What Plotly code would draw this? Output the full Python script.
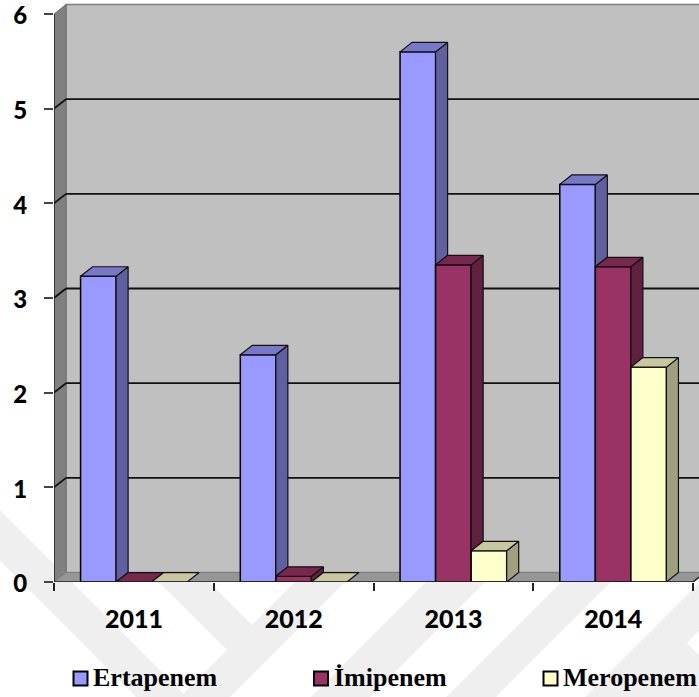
import plotly.graph_objects as go

# Values per year, one list per drug
years = ["2011", "2012", "2013", "2014"]
ertapenem = [3.23, 2.40, 5.60, 4.20]
imipenem = [0.0, 0.06, 3.35, 3.33]
meropenem = [0.0, 0.0, 0.33, 2.27]
series_names = ["Ertapenem", "İmipenem", "Meropenem"]
y_ticks = [0, 1, 2, 3, 4, 5, 6]

series = [ertapenem, imipenem, meropenem]
front = ["#9999FF", "#993366", "#FFFFCC"]
side = ["#6060A0", "#602040", "#A0A080"]
top = ["#7878C8", "#78284F", "#C8C8A0"]

# Axis geometry: category slots are one unit wide, depth is an offset in axis units
BAR_W = 0.2225
DX, DY = 0.0751, 0.1
GROUP_LEFT = -1.5 * BAR_W
X0, X1, Y1 = 0.5, 4.5, 6

# Page layout in pixels
PAGE_W, PAGE_H = 699, 697
M_L, M_T, M_B = 54, 2, 115
PLOT_W, PLOT_H = PAGE_W - M_L, PAGE_H - M_T - M_B


def px_x(x):
    return (x - M_L) / PLOT_W


def px_y(y):
    return (PAGE_H - M_B - y) / PLOT_H


def px_path(points):
    return "M" + " L".join(f"{px_x(x):.5f},{px_y(y):.5f}" for x, y in points) + " Z"


fig = go.Figure()

# Pale diagonal background bands
BAND = "#EFEFEF"
bands = [
    ([(0, 510), (187, 697), (136, 697), (0, 561)], BAND),
    ([(159, 582), (209, 582), (252, 625), (227, 650)], BAND),
    ([(180, 697), (297, 580), (347, 580), (230, 697)], BAND),
    ([(311, 697), (428, 580), (487, 580), (370, 697)], BAND),
    ([(446, 697), (563, 580), (613, 580), (496, 697)], BAND),
    ([(585, 697), (699, 583), (699, 697)], BAND),
    ([(687, 643), (699, 631), (699, 655)], "#FFFFFF"),
]
shapes = [
    dict(type="path", xref="paper", yref="paper", layer="below", path=px_path(pts),
         fillcolor=color, line=dict(width=0))
    for pts, color in bands
]

# Walls, floor and gridlines sit behind the bars
scene = [
    dict(type="rect", x0=X0 + DX, x1=X1 + DX, y0=DY, y1=Y1 + DY,
         fillcolor="#C0C0C0", line=dict(color="#808080", width=1.5)),
    dict(type="path", path=f"M{X0},0 L{X0 + DX},{DY} L{X0 + DX},{Y1 + DY} L{X0},{Y1} Z",
         fillcolor="#808080", line=dict(color="#707070", width=1)),
    dict(type="path", path=f"M{X0},0 L{X0 + DX},{DY} L{X1 + DX},{DY} L{X1},0 Z",
         fillcolor="#969696", line=dict(color="#808080", width=1)),
]
for t in y_ticks[1:-1]:
    scene.append(dict(type="line", x0=X0, y0=t, x1=X0 + DX, y1=t + DY,
                      line=dict(color="#111111", width=1.8)))
    scene.append(dict(type="line", x0=X0 + DX, y0=t + DY, x1=X1 + DX, y1=t + DY,
                      line=dict(color="#111111", width=1.8)))
for s in scene:
    s.update(xref="x", yref="y", layer="below")
shapes += scene

# Front faces
for k, (name, vals) in enumerate(zip(series_names, series)):
    fig.add_trace(go.Bar(
        x=[1, 2, 3, 4], y=vals, name=name, showlegend=False,
        marker=dict(color=front[k], line=dict(color="#000000", width=1.5)),
    ))


def face(xs, ys, color):
    fig.add_trace(go.Scatter(
        x=xs, y=ys, mode="lines", fill="toself", fillcolor=color,
        line=dict(color="#111111", width=1.2), showlegend=False, hoverinfo="skip",
    ))


# Side and top faces, worked out from the same values; a side stops where the next
# bar's front covers it
for c in range(4):
    for k in range(3):
        h = series[k][c]
        left = c + 1 + GROUP_LEFT + k * BAR_W
        right = left + BAR_W
        next_h = series[k + 1][c] if k < 2 else 0
        if h > next_h:
            face([right, right + DX, right + DX, right, right],
                 [next_h, next_h + DY, h + DY, h, next_h], side[k])
        face([left, left + DX, right + DX, right, left],
             [h, h + DY, h + DY, h, h], top[k])

# Baseline and vertical edge of the front plane
fig.add_trace(go.Scatter(x=[X0, X0, X1, X1 + DX], y=[Y1, 0, 0, DY], mode="lines",
                         line=dict(color="#222222", width=1.5),
                         showlegend=False, hoverinfo="skip"))

# Key along the bottom of the page: swatch box, then the series name
key_boxes = [(73.5, 87.5), (314, 328), (543.5, 557.5)]
key_text_x = [93, 334, 563]
annotations = []
for k, name in enumerate(series_names):
    x0, x1 = key_boxes[k]
    shapes.append(dict(type="rect", xref="paper", yref="paper", layer="above",
                       x0=px_x(x0), x1=px_x(x1), y0=px_y(671.5), y1=px_y(685.5),
                       fillcolor=front[k], line=dict(color="#000000", width=2)))
    annotations.append(dict(
        text=name, xref="paper", yref="paper", x=px_x(key_text_x[k]), y=px_y(677),
        xanchor="left", yanchor="middle", showarrow=False, xshift=-2,
        font=dict(family="Liberation Serif", size=26, color="#000000", weight=700),
    ))

fig.update_layout(
    width=PAGE_W, height=PAGE_H,
    margin=dict(l=M_L, r=0, t=M_T, b=M_B, autoexpand=False),
    paper_bgcolor="white", plot_bgcolor="rgba(0,0,0,0)",
    barmode="group", bargap=0.3325, bargroupgap=0, showlegend=False,
    shapes=shapes, annotations=annotations,
    xaxis=dict(
        range=[X0, X0 + PLOT_W / 159.75], tickmode="array", tickvals=[1, 2, 3, 4], ticktext=years,
        ticks="", ticklen=0, showgrid=False, zeroline=False, showline=False,
        tickfont=dict(family="Lato", size=25, color="#000000", weight=900),
        ticklabelstandoff=20,
        minor=dict(tickmode="array", tickvals=[0.5, 1.5, 2.5, 3.5, 4.5], ticks="outside",
                   ticklen=8, tickwidth=1.5, tickcolor="#222222", showgrid=False),
    ),
    yaxis=dict(
        range=[0, PLOT_H / 94.67], tickmode="array", tickvals=y_ticks,
        ticks="outside", ticklen=9, tickwidth=1.5, tickcolor="#444444",
        showgrid=False, zeroline=False, showline=False,
        tickfont=dict(family="Lato", size=24, color="#000000", weight=900),
        ticklabelstandoff=12, ticklabelshift=2, ticklabeloverflow="allow",
    ),
)

fig.write_html("out.html")
